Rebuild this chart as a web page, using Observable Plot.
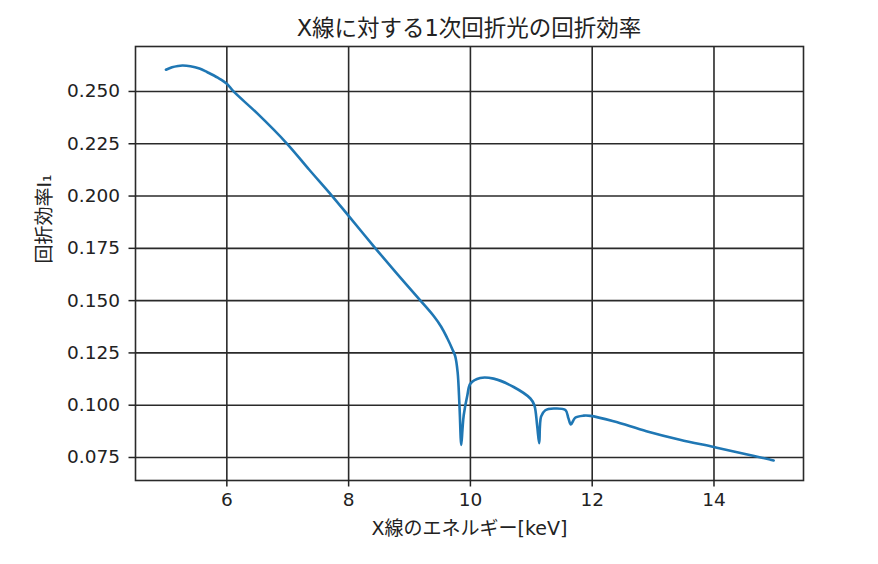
<!DOCTYPE html>
<html>
<head>
<meta charset="utf-8">
<script src="https://cdn.jsdelivr.net/npm/d3@7"></script>
<script src="https://cdn.jsdelivr.net/npm/@observablehq/plot@0.6"></script>
<style>
  html, body { margin: 0; padding: 0; background: #fff; }
  #wrap { position: relative; width: 878px; height: 564px; font-family: "DejaVu Sans", "Noto Sans CJK JP", sans-serif; }
  #title { position: absolute; z-index: 2; left: 135px; width: 668px; top: 13px; text-align: center; font-size: 22.5px; line-height: 30px; color: #222; }
  svg { position: absolute; left: 0; top: 0; z-index: 1; }
</style>
</head>
<body>
<div id="wrap"><div id="title"></div></div>
<script>
const energy = [5.0, 5.1, 5.2, 5.27, 5.4, 5.55, 5.68, 5.85, 6.0, 6.11, 6.5, 6.99, 7.35, 7.73, 8.0, 8.44, 8.8, 9.18, 9.4, 9.52, 9.62, 9.70, 9.75, 9.79, 9.82, 9.85, 9.87, 9.89, 9.95, 10.0, 10.16, 10.38, 10.71, 10.985, 11.05, 11.095, 11.13, 11.16, 11.23, 11.37, 11.56, 11.61, 11.65, 11.72, 11.86, 11.97, 12.35, 12.89, 13.44, 14.0, 14.51, 14.92, 14.98];
const efficiency = [0.2604, 0.2616, 0.2622, 0.2624, 0.2621, 0.2610, 0.2592, 0.2566, 0.2537, 0.2500, 0.2395, 0.2250, 0.2127, 0.2000, 0.1905, 0.1750, 0.1627, 0.1500, 0.1425, 0.1375, 0.1320, 0.1270, 0.1235, 0.1158, 0.1000, 0.0810, 0.0885, 0.0952, 0.1048, 0.1103, 0.1130, 0.1127, 0.1087, 0.1032, 0.1000, 0.0905, 0.0818, 0.0945, 0.0976, 0.0984, 0.0977, 0.0937, 0.0908, 0.0940, 0.0950, 0.0949, 0.0923, 0.0876, 0.0835, 0.0800, 0.0767, 0.0740, 0.0736];
const xTicks = [6, 8, 10, 12, 14];
const yTicks = [0.075, 0.100, 0.125, 0.150, 0.175, 0.200, 0.225, 0.250];
const titleText = "X線に対する1次回折光の回折効率";
const xLabel = "X線のエネルギー[keV]";
const yLabel = "回折効率I₁";

document.getElementById("title").textContent = titleText;
const data = energy.map((e, i) => ({energy: e, eff: efficiency[i]}));
const font = '"DejaVu Sans", "Noto Sans CJK JP", sans-serif';

const chart = Plot.plot({
  width: 878,
  height: 564,
  marginLeft: 135,
  marginRight: 75,
  marginTop: 46,
  marginBottom: 84,
  style: {fontFamily: font, fontSize: "18.5px", color: "#222", background: "transparent"},
  x: {domain: [4.5, 15.47]},
  y: {domain: [0.0640, 0.2715]},
  marks: [
    Plot.gridX(xTicks, {stroke: "#2a2a2a", strokeOpacity: 1, strokeWidth: 1.6}),
    Plot.gridY(yTicks, {stroke: "#2a2a2a", strokeOpacity: 1, strokeWidth: 1.6}),
    Plot.frame({stroke: "#2a2a2a", strokeWidth: 1.6}),
    Plot.axisX({ticks: xTicks, tickSize: 6.5, tickPadding: 6, fontSize: 18.5, strokeWidth: 1.5, label: null}),
    Plot.axisY({ticks: yTicks, tickFormat: d3.format(".3f"), tickSize: 6.5, tickPadding: 9, fontSize: 18.5, strokeWidth: 1.5, label: null}),
    Plot.line(data, {x: "energy", y: "eff", stroke: "#1f77b4", strokeWidth: 2.6, curve: "catmull-rom"}),
    Plot.text([xLabel], {frameAnchor: "bottom", dy: 54, fontSize: 19, fill: "#222"}),
    Plot.text([yLabel], {frameAnchor: "left", dx: -91, rotate: -90, fontSize: 19, fill: "#222"})
  ]
});
document.getElementById("wrap").appendChild(chart);
</script>
</body>
</html>
